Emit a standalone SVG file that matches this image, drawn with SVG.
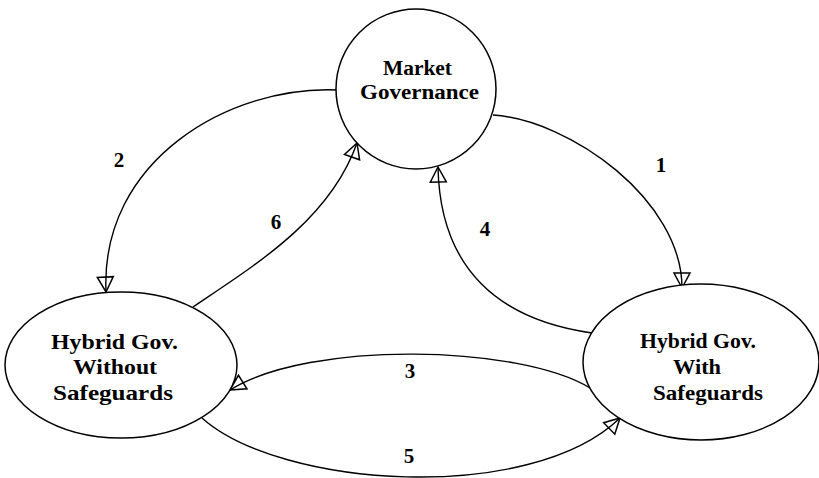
<svg xmlns="http://www.w3.org/2000/svg" width="819" height="478" viewBox="0 0 819 478">
<style>
.node{fill:#fff;stroke:#000;stroke-width:1.5}
.lbl{font-family:"Liberation Serif","Times New Roman",serif;font-weight:bold;fill:#000}
.t{font-size:22px}
.tm{font-size:20px}
.n{font-size:21px;text-anchor:middle}
.edge{fill:none;stroke:#000;stroke-width:1.4}
</style>
<defs>
<marker id="open" viewBox="-18 -11 20 22" refX="0" refY="0" markerWidth="20" markerHeight="22" markerUnits="userSpaceOnUse" orient="auto">
<path d="M0,0 L-15,-8 L-15,8 Z" fill="none" stroke="#000" stroke-width="1.5" stroke-linejoin="miter"/>
</marker>
</defs>
<rect width="819" height="478" fill="#fff"/>
<g id="connectors">
<path class="edge" d="M493,115 C570,120 682,200 682,288" marker-end="url(#open)"/>
<path class="edge" d="M338,90 C230,85 100,160 106,292" marker-end="url(#open)"/>
<path class="edge" d="M590,388 C520,345 310,340 230,390" marker-end="url(#open)"/>
<path class="edge" d="M592,333 C500,320 440,270 438,167" marker-end="url(#open)"/>
<path class="edge" d="M202,418 C280,488 530,505 620,418" marker-end="url(#open)"/>
<path class="edge" d="M193,307 C255,265 330,220 357,143" marker-end="url(#open)"/>
<text class="lbl n" x="661" y="172">1</text>
<text class="lbl n" x="119" y="167">2</text>
<text class="lbl n" x="410" y="378">3</text>
<text class="lbl n" x="485" y="236">4</text>
<text class="lbl n" x="409" y="463">5</text>
<text class="lbl n" x="276" y="229">6</text>
</g>
<g id="market">
<circle class="node" cx="416" cy="89" r="80"/>
<text class="lbl tm" x="383" y="75" textLength="69" lengthAdjust="spacingAndGlyphs">Market</text>
<text class="lbl tm" x="360" y="99" textLength="119" lengthAdjust="spacingAndGlyphs">Governance</text>
</g>
<g id="hybrid-without">
<ellipse class="node" cx="121" cy="365" rx="116" ry="73"/>
<text class="lbl t" x="51" y="349" textLength="127" lengthAdjust="spacingAndGlyphs">Hybrid Gov.</text>
<text class="lbl t" x="73" y="374" textLength="84" lengthAdjust="spacingAndGlyphs">Without</text>
<text class="lbl t" x="53" y="400" textLength="120" lengthAdjust="spacingAndGlyphs">Safeguards</text>
</g>
<g id="hybrid-with">
<ellipse class="node" cx="701" cy="362" rx="118" ry="78"/>
<text class="lbl t" x="640" y="348" textLength="116" lengthAdjust="spacingAndGlyphs">Hybrid Gov.</text>
<text class="lbl t" x="673" y="374" textLength="48" lengthAdjust="spacingAndGlyphs">With</text>
<text class="lbl t" x="653" y="400" textLength="110" lengthAdjust="spacingAndGlyphs">Safeguards</text>
</g>
</svg>
